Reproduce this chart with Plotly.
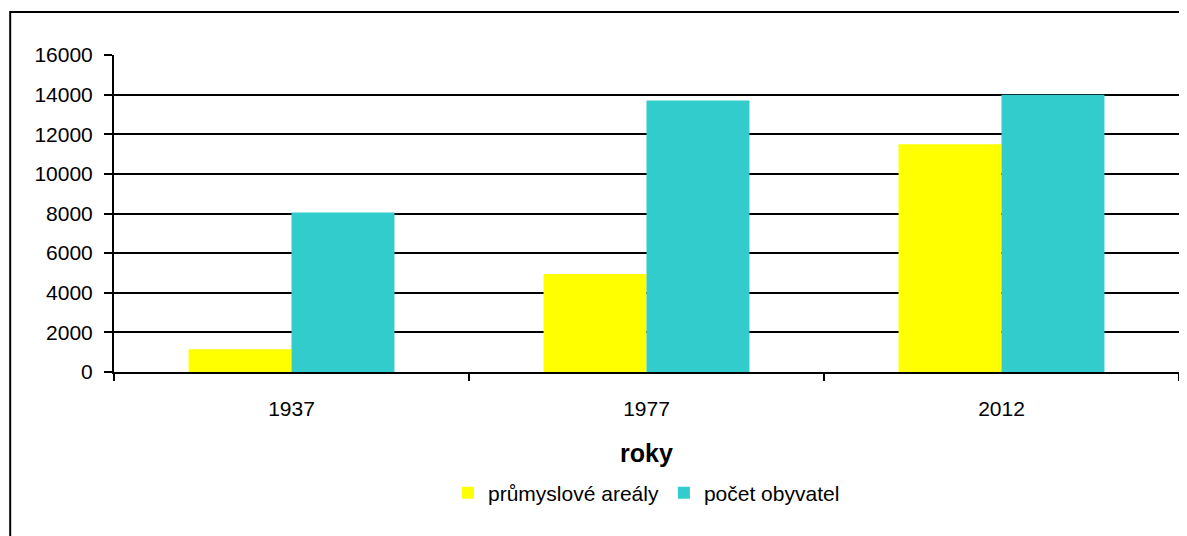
import plotly.graph_objects as go

# data
roky = ["1937", "1977", "2012"]
prumyslove_arealy = [1150, 4950, 11500]
pocet_obyvatel = [8050, 13700, 14000]
y_ticks = [0, 2000, 4000, 6000, 8000, 10000, 12000, 14000, 16000]

# page body has an 8px margin, so the figure is sized/placed accordingly
W, H = 1179, 528
ml, mr, mt, mb = 106, 6, 47, 164
pw = W - ml - mr
ph = H - mt - mb

fig = go.Figure()
fig.add_trace(go.Bar(x=roky, y=prumyslove_arealy, name="průmyslové areály",
                     marker=dict(color="#FFFF00", line=dict(width=0))))
fig.add_trace(go.Bar(x=roky, y=pocet_obyvatel, name="počet obyvatel",
                     marker=dict(color="#33CCCC", line=dict(width=0))))

# outer chart frame (right and bottom edges fall outside the picture)
fig.add_shape(type="rect", xref="paper", yref="paper",
              x0=(2 - ml) / pw, x1=(W + 20 - ml) / pw,
              y0=-(mb + 20) / ph, y1=(ph + mt - 4) / ph,
              line=dict(color="black", width=2), layer="below")

fig.update_layout(
    width=W, height=H,
    margin=dict(l=ml, r=mr, t=mt, b=mb),
    paper_bgcolor="white", plot_bgcolor="white",
    font=dict(family="Liberation Sans, Arial", size=21, color="black"),
    barmode="group", bargap=0.42, bargroupgap=0,
    showlegend=True,
    legend=dict(orientation="h", x=0.5, xanchor="center", y=-121 / ph, yanchor="middle",
                font=dict(size=21), traceorder="normal", itemwidth=30),
    xaxis=dict(type="category", tickson="boundaries", ticks="outside", ticklen=7,
               tickcolor="black", tickwidth=2, showline=True, linecolor="black",
               linewidth=2, showgrid=False, ticklabelstandoff=17,
               title=dict(text="<b>roky</b>", standoff=25)),
    yaxis=dict(range=[0, 16000], tickvals=y_ticks, ticktext=[str(v) for v in y_ticks],
               ticks="outside", ticklen=8, tickcolor="black", tickwidth=2,
               ticklabelstandoff=7,
               showline=True, linecolor="black", linewidth=2,
               mirror=True, showgrid=True, gridcolor="black", gridwidth=2,
               zeroline=False),
)

fig.write_html("out.html")
